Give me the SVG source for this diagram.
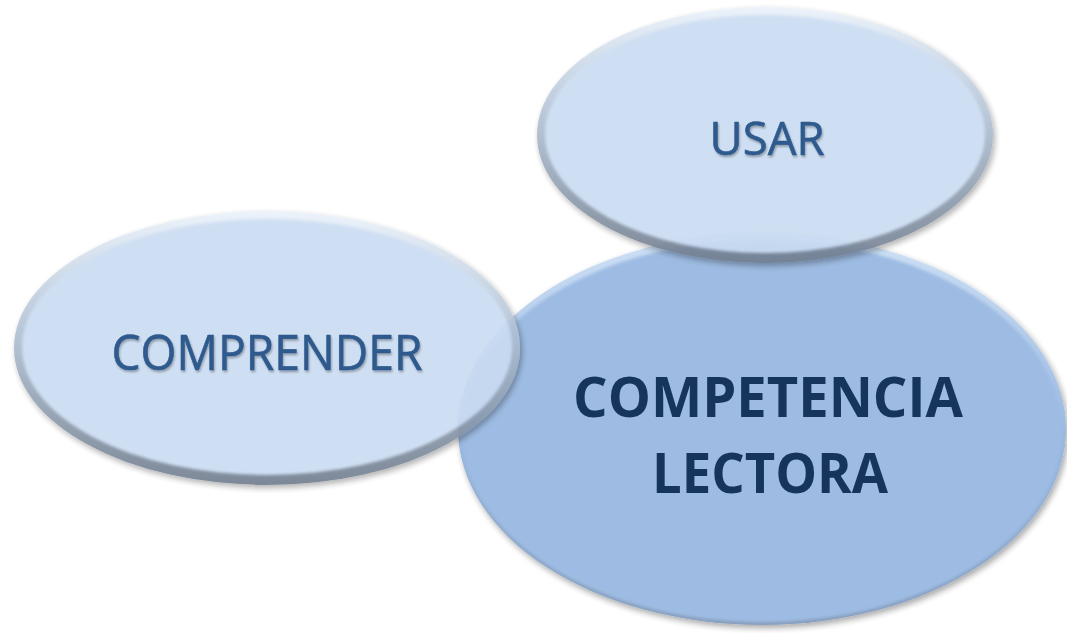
<svg xmlns="http://www.w3.org/2000/svg" width="1067" height="633" viewBox="0 0 1067 633">
<defs>
<style>
.rim{fill:url(#rimGrad)}
.face{fill:#CADCF2}
.small{font-family:"Open Sans","Noto Sans",sans-serif;fill:#2F5A8D;stroke:#2F5A8D;stroke-width:0.6}
.big{font-family:"Open Sans","Noto Sans",sans-serif;font-weight:bold;fill:#17365D}
</style>
<linearGradient id="rimGrad" x1="0" y1="0" x2="0" y2="1">
<stop offset="0" stop-color="#EAF2FB"/>
<stop offset="0.45" stop-color="#AEBFD2"/>
<stop offset="1" stop-color="#6F7C8D"/>
</linearGradient>
<linearGradient id="bigRim" x1="0" y1="0" x2="0" y2="1">
<stop offset="0" stop-color="#CFE1F6"/>
<stop offset="0.5" stop-color="#9CBAE1"/>
<stop offset="1" stop-color="#889FBE"/>
</linearGradient>
<filter id="shadow" x="-10%" y="-10%" width="125%" height="130%">
<feGaussianBlur in="SourceAlpha" stdDeviation="3"/>
<feOffset dx="2" dy="3" result="b"/>
<feComponentTransfer><feFuncA type="linear" slope="0.35"/></feComponentTransfer>
<feMerge><feMergeNode/><feMergeNode in="SourceGraphic"/></feMerge>
</filter>
<filter id="soft"><feGaussianBlur stdDeviation="1.6"/></filter>
<filter id="tshadow" x="-5%" y="-20%" width="110%" height="140%">
<feGaussianBlur in="SourceAlpha" stdDeviation="1"/>
<feOffset dx="1" dy="2"/>
<feComponentTransfer><feFuncA type="linear" slope="0.3"/></feComponentTransfer>
<feMerge><feMergeNode/><feMergeNode in="SourceGraphic"/></feMerge>
</filter>
</defs>
<rect width="1067" height="633" fill="#FFFFFF"/>
<g id="connectors"/>
<g id="node-competencia" filter="url(#shadow)">
<ellipse cx="762" cy="429" rx="304" ry="196" fill="url(#bigRim)"/>
<ellipse cx="762" cy="431" rx="300" ry="191" fill="#9EBCE3" filter="url(#soft)"/>
<text class="big" x="768" y="417" font-size="56" text-anchor="middle" textLength="390" lengthAdjust="spacingAndGlyphs">COMPETENCIA</text>
<text class="big" x="770" y="493" font-size="56" text-anchor="middle" textLength="236" lengthAdjust="spacingAndGlyphs">LECTORA</text>
</g>
<g id="node-usar" filter="url(#shadow)" opacity="0.9">
<ellipse cx="765" cy="135" rx="228" ry="128" class="rim"/>
<ellipse cx="765" cy="134" rx="220" ry="119" class="face" filter="url(#soft)"/>
</g>
<text class="small" x="767" y="155" font-size="46" text-anchor="middle" textLength="115" lengthAdjust="spacingAndGlyphs" filter="url(#tshadow)">USAR</text>
<g id="node-comprender" filter="url(#shadow)" opacity="0.9">
<ellipse cx="267" cy="348" rx="253" ry="137" class="rim"/>
<ellipse cx="267" cy="347" rx="245" ry="128" class="face" filter="url(#soft)"/>
</g>
<text class="small" x="267" y="370" font-size="49" text-anchor="middle" textLength="311" lengthAdjust="spacingAndGlyphs" filter="url(#tshadow)">COMPRENDER</text>
</svg>
